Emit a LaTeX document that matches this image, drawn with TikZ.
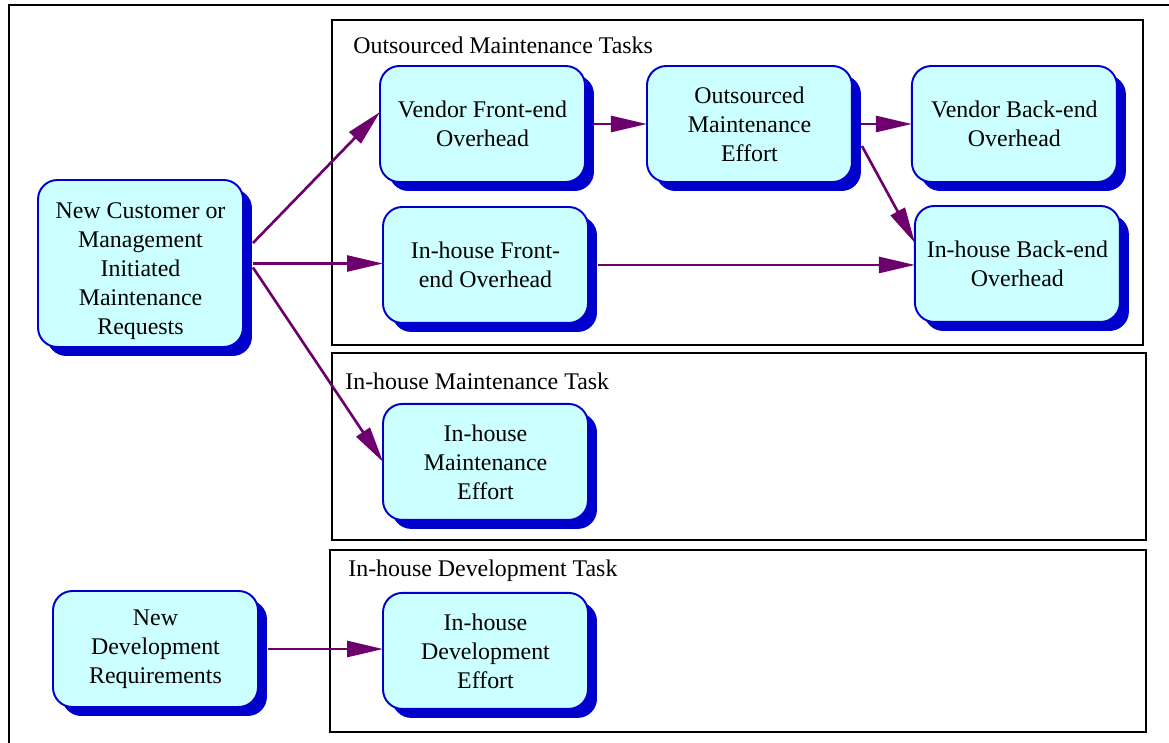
\documentclass[tikz,border=0pt]{standalone}
\usepackage{fontspec}
\setmainfont{Liberation Serif}
\usetikzlibrary{
  positioning,
  arrows.meta,
  shadows
}
\definecolor{taskbg}{RGB}{204,255,255}
\definecolor{taskborder}{RGB}{0,0,204}
\definecolor{taskshadow}{RGB}{0,0,204}
\definecolor{flowcolor}{RGB}{110,0,110}
\tikzset{
  tasknode/.style={
    draw=taskborder, fill=taskbg, line width=1.1pt, rounded corners=11pt,
    minimum width=4.1cm, minimum height=2.32cm, inner sep=2pt, outer sep=0pt,
    font=\fontsize{13.6}{16.5}\selectfont, align=center,
    drop shadow={shadow xshift=0.18cm, shadow yshift=-0.18cm,
      fill=taskshadow, opacity=1}
  },
  groupframe/.style={
    draw=black, line width=1.4pt
  },
  grouplabel/.style={
    anchor=west, inner sep=0pt, font=\fontsize{13.6}{16.5}\selectfont
  },
  flowarrow/.style={
    -{Triangle[length=0.72cm, width=0.32cm]}, line width=1.5pt, draw=flowcolor
  }
}

\begin{document}
\begin{tikzpicture}[
    x=0.02cm, y=-0.02cm,
    node distance=0.5cm and 1.2cm
  ]

    \clip (0,0) rectangle (1169,743);

    % frames
    \draw[groupframe] (9,5) rectangle (1300,900);
    \draw[groupframe] (332,20) rectangle (1143,345);
    \draw[groupframe] (332,353) rectangle (1146,540);
    \draw[groupframe] (330,550) rectangle (1146,732);

    \node[grouplabel] (outlbl) at (353,45) {Outsourced Maintenance Tasks};
    \node[grouplabel] (mntlbl) at (345,381) {In-house Maintenance Task};
    \node[grouplabel] (devlbl) at (348,571) {In-house Development Task};

    % sources
    \node[tasknode, minimum height=3.34cm] (req) at (140.5,263.5) {\rule{0pt}{0.62cm}New Customer or\\Management\\Initiated\\Maintenance\\Requests};
    \node[tasknode] (newdev) at (155.5,649) {New\\Development\\Requirements};

    % outsourced
    \node[tasknode] (vfe) at (482.5,124) {Vendor Front-end\\Overhead};
    \node[tasknode, right=1.24cm of vfe] (ome) {Outsourced\\Maintenance\\Effort};
    \node[tasknode, right=1.2cm of ome] (vbe) {Vendor Back-end\\Overhead};
    \node[tasknode, below=0.5cm of vfe, xshift=0.06cm] (ife) {In-house Front-\\end Overhead};
    \node[tasknode, below=0.48cm of vbe, xshift=0.06cm] (ibe) {In-house Back-end\\Overhead};

    % in-house
    \node[tasknode, below=1.62cm of ife] (ime) {In-house\\Maintenance\\Effort};
    \node[tasknode, below=1.46cm of ime] (ide) {In-house\\Development\\Effort};

    \draw[flowarrow] ([xshift=0.2cm, yshift=0.41cm]req.east) -- ([yshift=0.24cm]vfe.west);
    \draw[flowarrow] ([xshift=0.2cm]req.east) -- (req.east -| ife.west);
    \draw[flowarrow] ([xshift=0.2cm, yshift=-0.08cm]req.east) -- (ime.west);

    \draw[flowarrow] ([xshift=0.18cm]vfe.east) -- (vfe.east -| ome.west);
    \draw[flowarrow] ([xshift=0.18cm]ome.east) -- (ome.east -| vbe.west);
    \draw[flowarrow] ([xshift=0.2cm, yshift=-0.44cm]ome.east) -- ([yshift=0.42cm]ibe.west);
    \draw[flowarrow] ([xshift=0.2cm]ife.east) -- (ife.east -| ibe.west);

    \draw[flowarrow] ([xshift=0.2cm]newdev.east) -- (newdev.east -| ide.west);

  \end{tikzpicture}
\end{document}
